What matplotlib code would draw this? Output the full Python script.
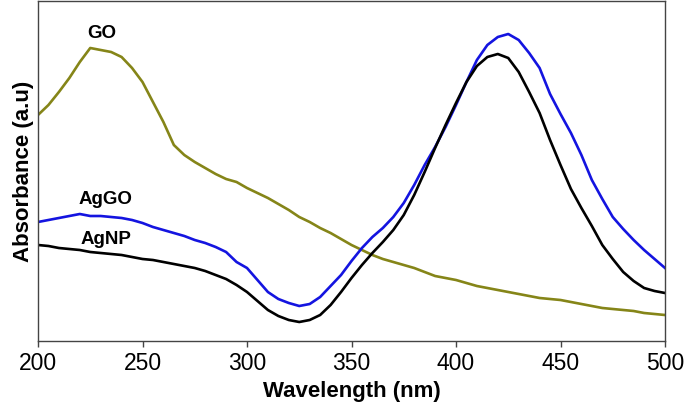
import numpy as np
import matplotlib
matplotlib.use("Agg")
import matplotlib.pyplot as plt

plt.rcParams['font.family'] = ['Liberation Sans', 'DejaVu Sans']

wavelength = np.arange(200, 501, 5)

go = [2.26, 2.36, 2.49, 2.63, 2.79, 2.93, 2.91, 2.89, 2.84, 2.73,
      2.59, 2.39, 2.19, 1.96, 1.86, 1.79, 1.73, 1.67, 1.62, 1.59,
      1.53, 1.48, 1.43, 1.37, 1.31, 1.24, 1.19, 1.13, 1.08, 1.02,
      0.96, 0.91, 0.86, 0.82, 0.79, 0.76, 0.73, 0.69, 0.65, 0.63,
      0.61, 0.58, 0.55, 0.53, 0.51, 0.49, 0.47, 0.45, 0.43, 0.42,
      0.41, 0.39, 0.37, 0.35, 0.33, 0.32, 0.31, 0.30, 0.28, 0.27, 0.26]

aggo = [1.19, 1.21, 1.23, 1.25, 1.27, 1.25, 1.25, 1.24, 1.23, 1.21,
        1.18, 1.14, 1.11, 1.08, 1.05, 1.01, 0.98, 0.94, 0.89, 0.79,
        0.73, 0.61, 0.49, 0.42, 0.38, 0.35, 0.37, 0.44, 0.55, 0.66,
        0.80, 0.93, 1.04, 1.13, 1.24, 1.38, 1.56, 1.76, 1.94, 2.14,
        2.36, 2.59, 2.81, 2.96, 3.04, 3.07, 3.01, 2.88, 2.73, 2.47,
        2.27, 2.08, 1.86, 1.61, 1.42, 1.24, 1.12, 1.01, 0.91, 0.82, 0.73]

agnp = [0.96, 0.95, 0.93, 0.92, 0.91, 0.89, 0.88, 0.87, 0.86, 0.84,
        0.82, 0.81, 0.79, 0.77, 0.75, 0.73, 0.70, 0.66, 0.62, 0.56,
        0.49, 0.40, 0.31, 0.25, 0.21, 0.19, 0.21, 0.26, 0.36, 0.49,
        0.63, 0.76, 0.88, 0.99, 1.11, 1.26, 1.46, 1.69, 1.93, 2.16,
        2.38, 2.59, 2.75, 2.84, 2.87, 2.83, 2.69, 2.49, 2.28, 2.01,
        1.76, 1.52, 1.33, 1.15, 0.96, 0.82, 0.69, 0.60, 0.53, 0.50, 0.48]

series_labels = ["GO", "AgGO", "AgNP"]
label_x = [230.6, 232.5, 232.5]
label_y = [3.08, 1.42, 1.01]
colors = ["#858518", "#1414e0", "#000000"]
xticks = [200, 250, 300, 350, 400, 450, 500]

fig = plt.figure(figsize=(6.85, 4.08), dpi=100)
ax = fig.add_axes([38/685, 1 - 341/408, (665-38)/685, 340/408])

for vals, c in zip([go, aggo, agnp], colors):
    ax.plot(wavelength, vals, color=c, lw=1.9, solid_joinstyle='round')

for lab, x, y in zip(series_labels, label_x, label_y):
    ax.text(x, y, lab, ha='center', va='center', fontsize=13.5, fontweight='bold')

ax.set_xlim(200, 500)
ax.set_ylim(0, 3.40)
ax.set_xticks(xticks)
ax.set_yticks([])
ax.tick_params(axis='x', direction='out', length=4, width=1, labelsize=16.5, pad=4, color='#444444')
for s in ax.spines.values():
    s.set_color('#444444')
    s.set_linewidth(1.0)

ax.set_xlabel("Wavelength (nm)", fontsize=16, fontweight='bold', labelpad=4)
ax.set_ylabel("Absorbance (a.u)", fontsize=16, fontweight='bold', labelpad=3)

fig.savefig("out.png", dpi=100)
